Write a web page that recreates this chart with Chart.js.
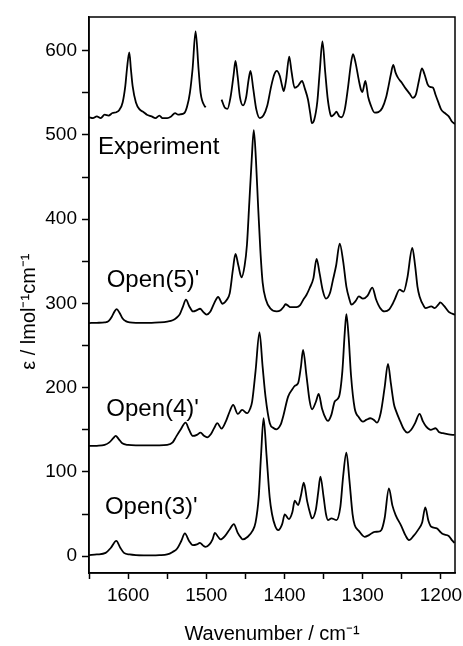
<!DOCTYPE html>
<html>
<head>
<meta charset="utf-8">
<script src="https://cdn.jsdelivr.net/npm/chart.js@4.4.0/dist/chart.umd.min.js"></script>
<style>
  html, body { margin: 0; padding: 0; background: #fff; }
  #wrap { width: 463px; height: 646px; }
</style>
</head>
<body>
<div id="wrap"><canvas id="chart"></canvas></div>
<script>
// spectra (wavenumber in cm-1, epsilon in l mol-1 cm-1)
const expX = [1650,1645,1640,1635,1630,1625,1620,1615,1611,1607,1603.6,1601.5,1598.5,1596.4,1594.2,1590,1585,1580,1576,1570,1565,1560,1556,1550,1545,1540,1536,1533.8,1528,1524.5,1521,1517.6,1513.7,1509.9,1507.3,1502,1500.6,1492,1480.5,1476,1473,1469,1465,1462.7,1460,1457,1453,1449,1446,1443.5,1440,1436,1431.6,1427,1422,1417,1413,1410,1406,1403,1401,1398,1394,1391,1387,1383,1377.6,1374,1370,1367,1365,1362,1358,1355,1351.5,1348,1345,1342,1340,1336,1333.7,1330,1327,1323,1319,1315,1312.4,1309,1305,1302,1300.5,1296.6,1293,1290,1284.7,1280,1275,1270,1267,1264,1261,1258,1255,1250,1245,1240,1236,1232,1228,1224.3,1221,1217,1214,1210,1207,1203,1199.6,1195,1190,1186,1182];
const expY = [521,520,522,520,524,523,526,527,530,538.6,558,578,598,578,558,538.6,530,527,524,522,520,523,520,520,522,526,524,524.4,526,534,550,578,623,578,550,534,533,null,542,532,531,545,572,588,570,545,535,545,565,576,555,530,520,523,535,558,572,576,570,558,552,565,593,575,556,558,564,555,542,525,514,518,540,575,611,575,545,527,522,525,527.6,522,521,530,555,585,596,585,565,553,551,564,545,536,526.4,527,532,545,558,572,583,574,568,562,555,549,544,548,565,579,572,560,557,556,548,538,530,526,522,516,513];

const o5X = [1650,1640,1630,1625,1621,1617,1614.6,1611,1607,1603,1598,1590,1580,1570,1560,1550,1543,1538,1534,1530,1526,1522,1518,1516.8,1512,1508,1504,1499.7,1495,1490,1484.9,1479.3,1474,1470,1466,1462.7,1459,1455,1451,1448,1445,1442,1439.3,1436.5,1434,1431,1428,1424,1418,1410,1405,1401,1398.8,1395,1393,1384.7,1380,1376,1372,1367.8,1363,1359,1355,1351,1347,1342,1338,1334,1329.4,1325,1320.9,1317,1314.5,1309,1305,1299.7,1294,1287.7,1283,1278,1272,1266,1262,1259.2,1252.8,1247.7,1243,1236.6,1233,1230,1227.3,1222,1219.6,1212.3,1208,1203,1200.8,1196,1190,1186,1182];
const o5Y = [276.7,277,277.5,279,284,291,293.3,289,282,279,277.5,277,277,277,277.5,278.5,280,283,287,296,304.4,297,291,290.5,292,293.7,290,286.6,290,300,307.6,299.6,304,312.3,340,358.7,345,331,345,370,420,470,505.7,470,420,365,325,305,294,290.5,292,296,299,297,295.7,295.7,298,304.4,310,318.3,330,352.8,335,315,305.6,312,328.2,345,371,350,320,305,298.5,303,308.3,305.6,309,318.7,305,295,290.5,293,299,304.4,316.3,314,330,365.8,345,320,308.3,297,294.5,296.4,294.5,299,301.2,297,290,288,286.6];

const o4X = [1650,1640,1630,1624,1619,1615.9,1612,1607.5,1600,1590,1580,1570,1560,1550,1543,1538.5,1533,1526.5,1522,1517.2,1512,1507.4,1503,1498.9,1494,1490,1486,1480.5,1475,1470,1465.7,1459.7,1454.2,1447.8,1444,1441.4,1437,1432,1428,1424.3,1418.8,1413.7,1410.3,1405,1401.8,1395.4,1390,1386.9,1382.6,1379,1376.3,1372,1368,1364.8,1360,1356.3,1352,1347,1344.4,1340,1335.8,1330.3,1326,1323,1320.9,1318,1315,1310.3,1305,1299.7,1295,1290.3,1286,1281.8,1277,1272,1267.7,1264,1260,1257.9,1252,1247,1243,1238,1233,1227.3,1223,1218.8,1213,1206.8,1202,1197.5,1190,1182.6];
const o4Y = [130.8,131,132,135,140,142.7,139,134,132,131.5,131.5,131.5,131.5,132,135,141.9,150,158.5,150,142.7,144,146.6,143,141.1,145,152,157.8,151.4,160,172,179.5,168.8,173.6,169.7,175,183.5,220,265.5,225,189.4,157.8,151.8,150.6,156,165.6,189.4,198,202.1,205.3,225,244.9,215,185,174.4,183,192.6,175,163,160.5,168,183.5,189.4,220,265,287.4,260,215,175.6,165,159.7,162,163.7,162,158.5,170,200,228.3,205,180,173.6,160,150,146.6,150,158,168.8,160,153.7,150,151.8,147,145.9,144.5,143.9];

const o3X = [1650,1640,1628.7,1622,1615.1,1610,1605.3,1598,1590,1580,1570,1560,1550,1543,1537.2,1532,1527.4,1522,1517.2,1512,1508.2,1504,1501,1496,1492,1489,1485,1481.8,1476,1470,1464.8,1460,1455,1453.3,1447,1441,1437,1433,1430,1426.8,1423,1419,1416,1412,1408,1403,1399.7,1394.4,1390,1386.9,1382.6,1379,1375.4,1371,1367,1364.8,1360,1357,1354.1,1350,1347,1344.4,1340,1336,1333.7,1328.6,1325,1320.9,1317,1313,1310.3,1305,1297.5,1292,1284.7,1280,1276.2,1272,1266.5,1262,1257.9,1250.6,1245,1240.9,1235,1229.4,1224,1220,1216,1212.3,1205.2,1201,1197.5,1190,1186,1182.6];
const o3Y = [1.2,2,3.9,10,18.2,10,3.9,2,1.2,1,1,1.2,2,5,9.1,18,27,18,13,14,15.8,12.5,11,14,20,27.7,23,19.8,24,32,38,28,21,19.8,23,30,40,70,120,163.7,120,70,50,36,30.9,38,49.6,44,52,65.8,60.6,72,87.2,65,50,44.8,55,75,94.3,70,50,42.8,44.8,43.5,42.8,58.6,95,122.9,90,50,36.9,30,23,25,28.9,29,30.9,45,80.5,60,48.8,35.7,24,19,24,30.9,40,57.9,42,34.8,32.9,29,26.2,24,19,15.8];

const seriesNames = ["Experiment", "Open(5)'", "Open(4)'", "Open(3)'"];
// tick marks (every 50) and the labelled ones (every 100)
const xTicks = [1650,1600,1550,1500,1450,1400,1350,1300,1250,1200];
const yTicks = [0,50,100,150,200,250,300,350,400,450,500,550,600];
const xLabels = [1600,1500,1400,1300,1200];
const yLabels = [0,100,200,300,400,500,600];
// label anchors in data units (left edge, baseline)
const labelAt = [[1638.5, 477], [1627.4, 319.5], [1627.9, 166.5], [1629.6, 50]];

function pts(xs, ys) {
    return xs.map((x, i) => ({ x: x, y: ys[i] }));
}

const frame = {
    id: 'frame',
    afterDatasetsDraw(chart) {
        const c = chart.ctx, a = chart.chartArea;
        const xs = chart.scales.x, ys = chart.scales.y;
        c.save();
        c.fillStyle = '#000';
        c.font = '24px "Liberation Sans", Arial, sans-serif';
        c.textAlign = 'left';
        c.textBaseline = 'alphabetic';
        seriesNames.forEach((n, i) => {
            c.fillText(n, xs.getPixelForValue(labelAt[i][0]), ys.getPixelForValue(labelAt[i][1]));
        });
        c.strokeStyle = '#000';
        c.lineWidth = 1.5;
        c.strokeRect(a.left, a.top, a.right - a.left, a.bottom - a.top);
        c.restore();
    }
};

const lineStyle = { borderColor: '#000', borderWidth: 1.8, pointRadius: 0, fill: false,
                    tension: 0.4, cubicInterpolationMode: 'monotone', spanGaps: false };
const tickFont = { family: '"Liberation Sans", Arial, sans-serif', size: 19 };

new Chart(document.getElementById('chart'), {
    type: 'line',
    data: {
        datasets: [
            Object.assign({ label: seriesNames[0], data: pts(expX, expY) }, lineStyle),
            Object.assign({ label: seriesNames[1], data: pts(o5X, o5Y) }, lineStyle),
            Object.assign({ label: seriesNames[2], data: pts(o4X, o4Y) }, lineStyle),
            Object.assign({ label: seriesNames[3], data: pts(o3X, o3Y) }, lineStyle)
        ]
    },
    options: {
        responsive: true,
        maintainAspectRatio: false,
        animation: false,
        layout: { padding: { top: 17, right: 8, left: 0, bottom: 0 } },
        plugins: { legend: { display: false }, tooltip: { enabled: false } },
        scales: {
            x: {
                type: 'linear',
                reverse: true,
                min: 1182,
                max: 1650,
                afterBuildTicks: s => { s.ticks = xTicks.map(v => ({ value: v })); },
                afterFit: s => { s.height = 73; s.paddingLeft = 0; s.paddingRight = 0; },
                ticks: {
                    color: '#000',
                    padding: 5,
                    maxRotation: 0,
                    autoSkip: false,
                    font: tickFont,
                    callback: v => (xLabels.includes(v) ? String(v) : '')
                },
                grid: { drawOnChartArea: false, color: '#000', tickLength: 6, tickWidth: 1.5 },
                border: { color: '#000', width: 1.5 },
                title: {
                    display: true,
                    text: 'Wavenumber / cm\u207B\u00B9',
                    color: '#000',
                    padding: { top: 3, bottom: 0 },
                    font: { family: '"Liberation Sans", Arial, sans-serif', size: 20 }
                }
            },
            y: {
                type: 'linear',
                min: -20,
                max: 640,
                afterBuildTicks: s => { s.ticks = yTicks.map(v => ({ value: v })); },
                afterFit: s => { s.width = 89; s.paddingTop = 0; s.paddingBottom = 0; },
                ticks: {
                    color: '#000',
                    padding: 5,
                    autoSkip: false,
                    font: tickFont,
                    callback: v => (yLabels.includes(v) ? String(v) : '')
                },
                grid: { drawOnChartArea: false, color: '#000', tickLength: 7, tickWidth: 1.5 },
                border: { color: '#000', width: 1.5 },
                title: {
                    display: true,
                    text: '\u03B5 / lmol\u207B\u00B9cm\u207B\u00B9      ',
                    color: '#000',
                    padding: { top: 17, bottom: 0 },
                    font: { family: '"Liberation Sans", Arial, sans-serif', size: 20 }
                }
            }
        }
    },
    plugins: [frame]
});
</script>
</body>
</html>
